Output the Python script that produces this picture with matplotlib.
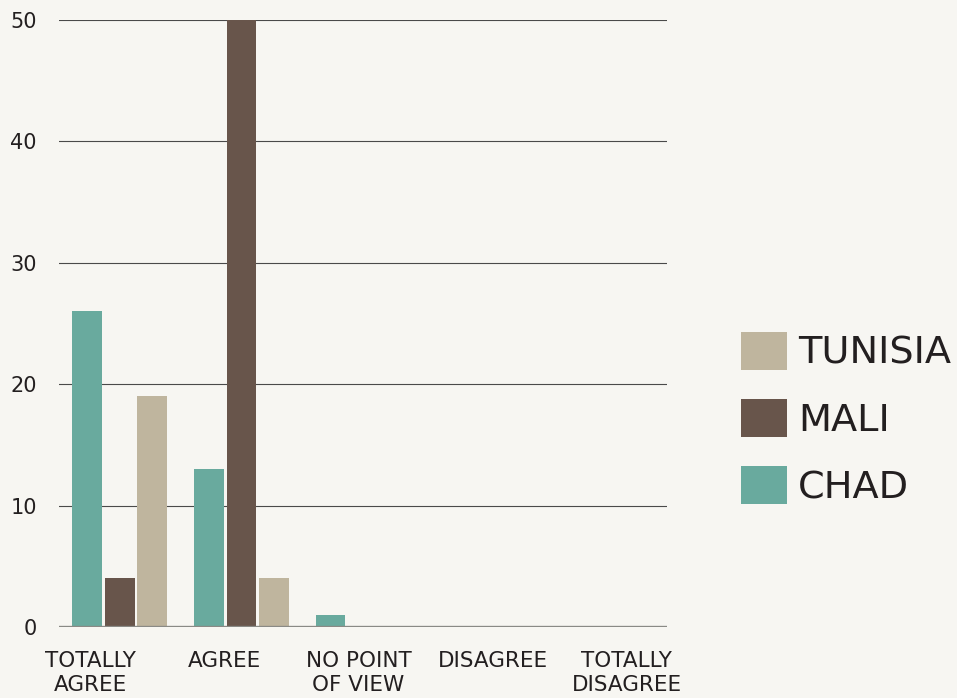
import matplotlib
matplotlib.use("Agg")
import matplotlib.pyplot as plt
import numpy as np

categories = ["TOTALLY\nAGREE", "AGREE", "NO POINT\nOF VIEW", "DISAGREE", "TOTALLY\nDISAGREE"]
chad = [26, 13, 1, 0, 0]
mali = [4, 50, 0, 0, 0]
tunisia = [19, 4, 0, 0, 0]

COLORS = {"CHAD": "#69aa9e", "MALI": "#68554b", "TUNISIA": "#bfb59e"}
BG = "#f7f6f2"
TEXT = "#231f20"

plt.rcParams["font.family"] = ["DejaVu Sans"]

fig = plt.figure(figsize=(9.57, 6.98), dpi=100, facecolor=BG)
ax = fig.add_axes([59 / 957, 71 / 698, 608 / 957, 607 / 698])
ax.set_facecolor(BG)

x = np.arange(len(categories))
width = 0.245
step = 0.267
bars = {}
for i, (name, vals) in enumerate([("CHAD", chad), ("MALI", mali), ("TUNISIA", tunisia)]):
    bars[name] = ax.bar(x + (i - 1) * step, vals, width, color=COLORS[name],
                        label=name, zorder=3)

ax.set_xlim(-0.5, len(categories) - 0.5)
ax.set_ylim(0, 50)
ax.set_yticks([0, 10, 20, 30, 40, 50])
ax.yaxis.grid(True, color="#4a4a4a", linewidth=0.8, zorder=1)
ax.axhline(0, color="#8a8a86", linewidth=2.4, zorder=4)
for s in ax.spines.values():
    s.set_visible(False)

# the original spreads its category labels a bit wider than the bar groups
ax.set_xticks(x * 1.102 - 0.241)
ax.set_xticklabels(categories, fontsize=15.5, color=TEXT, linespacing=1.3)
ax.tick_params(axis="x", length=0, pad=17)
ax.tick_params(axis="y", length=0, pad=16, labelsize=15, labelcolor=TEXT)

handles = [bars["TUNISIA"], bars["MALI"], bars["CHAD"]]
fig.legend(handles, ["TUNISIA", "MALI", "CHAD"], loc="center left",
           bbox_to_anchor=(741 / 957, 1 - 419 / 698), frameon=False,
           fontsize=27.5, labelcolor=TEXT, handlelength=1.2, handleheight=1.15,
           handletextpad=0.3, labelspacing=0.72, borderpad=0, borderaxespad=0)

fig.savefig("out.png", dpi=100, facecolor=BG)
